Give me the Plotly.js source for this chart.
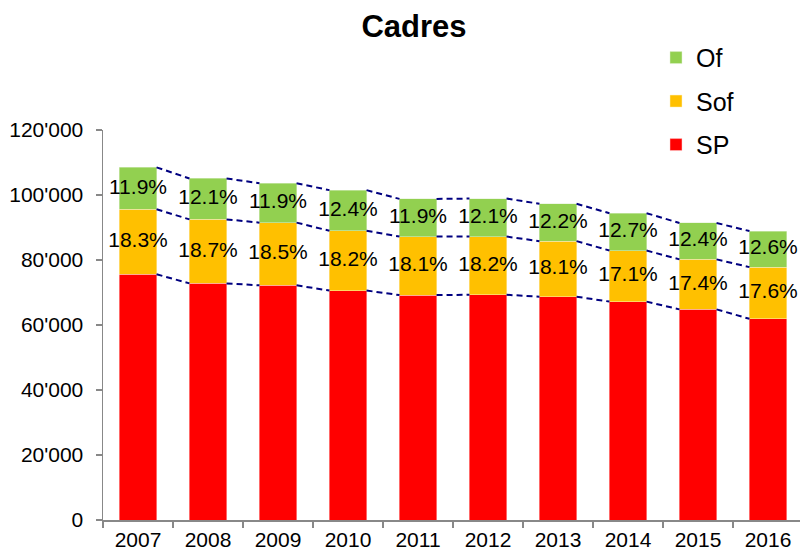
<!DOCTYPE html>
<html>
<head>
<meta charset="utf-8">
<script src="https://cdn.plot.ly/plotly-3.0.1.min.js"></script>
<style>html,body{margin:0;padding:0;background:#fff;}#chart{width:800px;height:553px;}</style>
</head>
<body>
<div id="chart"></div>
<script>
const years = [2007, 2008, 2009, 2010, 2011, 2012, 2013, 2014, 2015, 2016];
const spValues  = [75600, 72800, 72200, 70600, 69200, 69300, 68700, 67200, 64800, 61900];
const sofValues = [20000, 19700, 19300, 18400, 18000, 17900, 17100, 15700, 15400, 15900];
const ofValues  = [12900, 12600, 12100, 12500, 11600, 11700, 11500, 11500, 11200, 11100];
const sofPct = ['18.3%', '18.7%', '18.5%', '18.2%', '18.1%', '18.2%', '18.1%', '17.1%', '17.4%', '17.6%'];
const ofPct  = ['11.9%', '12.1%', '11.9%', '12.4%', '11.9%', '12.1%', '12.2%', '12.7%', '12.4%', '12.6%'];
const yTicks = [0, 20000, 40000, 60000, 80000, 100000, 120000];

const FONT = 'Liberation Sans, Arial, sans-serif';
const barWidth = 0.53;
const hw = barWidth / 2;

const lvl1 = spValues;
const lvl2 = spValues.map((v, i) => v + sofValues[i]);
const lvl3 = lvl2.map((v, i) => v + ofValues[i]);

function seriesLine(level) {
  const xs = [], ys = [];
  for (let i = 0; i < years.length - 1; i++) {
    xs.push(years[i] + hw, years[i + 1] - hw, null);
    ys.push(level[i], level[i + 1], null);
  }
  return {
    type: 'scatter', mode: 'lines', x: xs, y: ys,
    line: {color: '#000080', width: 2, dash: '6px,4px'},
    showlegend: false, hoverinfo: 'skip'
  };
}

const traces = [
  {type: 'bar', name: 'SP', x: years, y: spValues, width: barWidth,
   marker: {color: '#FF0000', line: {color: '#ffd0d0', width: 0.5}}, legendgroup: 'c', legendrank: 3},
  {type: 'bar', name: 'Sof', x: years, y: sofValues, width: barWidth,
   marker: {color: '#FFC000', line: {color: '#fff0c0', width: 0.5}}, legendgroup: 'b', legendrank: 2},
  {type: 'bar', name: 'Of', x: years, y: ofValues, width: barWidth,
   marker: {color: '#92D050', line: {color: '#e0f0d0', width: 0.5}}, legendgroup: 'a', legendrank: 1},
  seriesLine(lvl1), seriesLine(lvl2), seriesLine(lvl3),
  {type: 'scatter', mode: 'text', x: years,
   y: lvl1.map((v, i) => v + sofValues[i] / 2), text: sofPct,
   textfont: {family: FONT, size: 21, color: '#000'}, showlegend: false, hoverinfo: 'skip'},
  {type: 'scatter', mode: 'text', x: years,
   y: lvl2.map((v, i) => v + ofValues[i] / 2), text: ofPct,
   textfont: {family: FONT, size: 21, color: '#000'}, showlegend: false, hoverinfo: 'skip'}
];

const layout = {
  width: 800, height: 553,
  margin: {l: 103, r: 0, t: 130, b: 33, autoexpand: false},
  paper_bgcolor: '#fff', plot_bgcolor: '#fff',
  separators: ".'",
  barmode: 'stack',
  font: {family: FONT, size: 21, color: '#000'},
  title: {text: 'Cadres', font: {family: FONT, size: 31, weight: 700, color: '#000'},
          xref: 'container', x: 0.5175, xanchor: 'center',
          yref: 'container', y: 0.953, yanchor: 'middle'},
  xaxis: {
    range: [2006.5, 2006.5 + 697 / 70],
    tickvals: years, ticktext: years.map(String),
    ticks: '', showgrid: false, zeroline: false,
    showline: true, linecolor: '#888', linewidth: 1.5,
    tickfont: {family: FONT, size: 21, color: '#000'},
    minor: {tick0: 2006.5, dtick: 1, ticks: 'outside', ticklen: 6, tickcolor: '#888', tickwidth: 1.5, showgrid: false},
    fixedrange: true
  },
  yaxis: {
    range: [0, 120000],
    tickvals: yTicks, tickformat: ',d',
    ticks: 'outside', ticklen: 6, tickcolor: '#888', tickwidth: 1.5,
    showgrid: false, zeroline: false,
    showline: true, linecolor: '#888', linewidth: 1.5,
    tickfont: {family: FONT, size: 21, color: '#000'},
    ticklabelstandoff: 8,
    fixedrange: true
  },
  legend: {
    x: (656 - 103) / 697, xanchor: 'left',
    yref: 'container', y: 0.937, yanchor: 'top',
    traceorder: 'grouped', tracegroupgap: 8,
    font: {family: FONT, size: 25, color: '#000'},
    bgcolor: 'rgba(0,0,0,0)'
  },
  showlegend: true
};

Plotly.newPlot('chart', traces, layout, {displayModeBar: false, staticPlot: true});
</script>
</body>
</html>
